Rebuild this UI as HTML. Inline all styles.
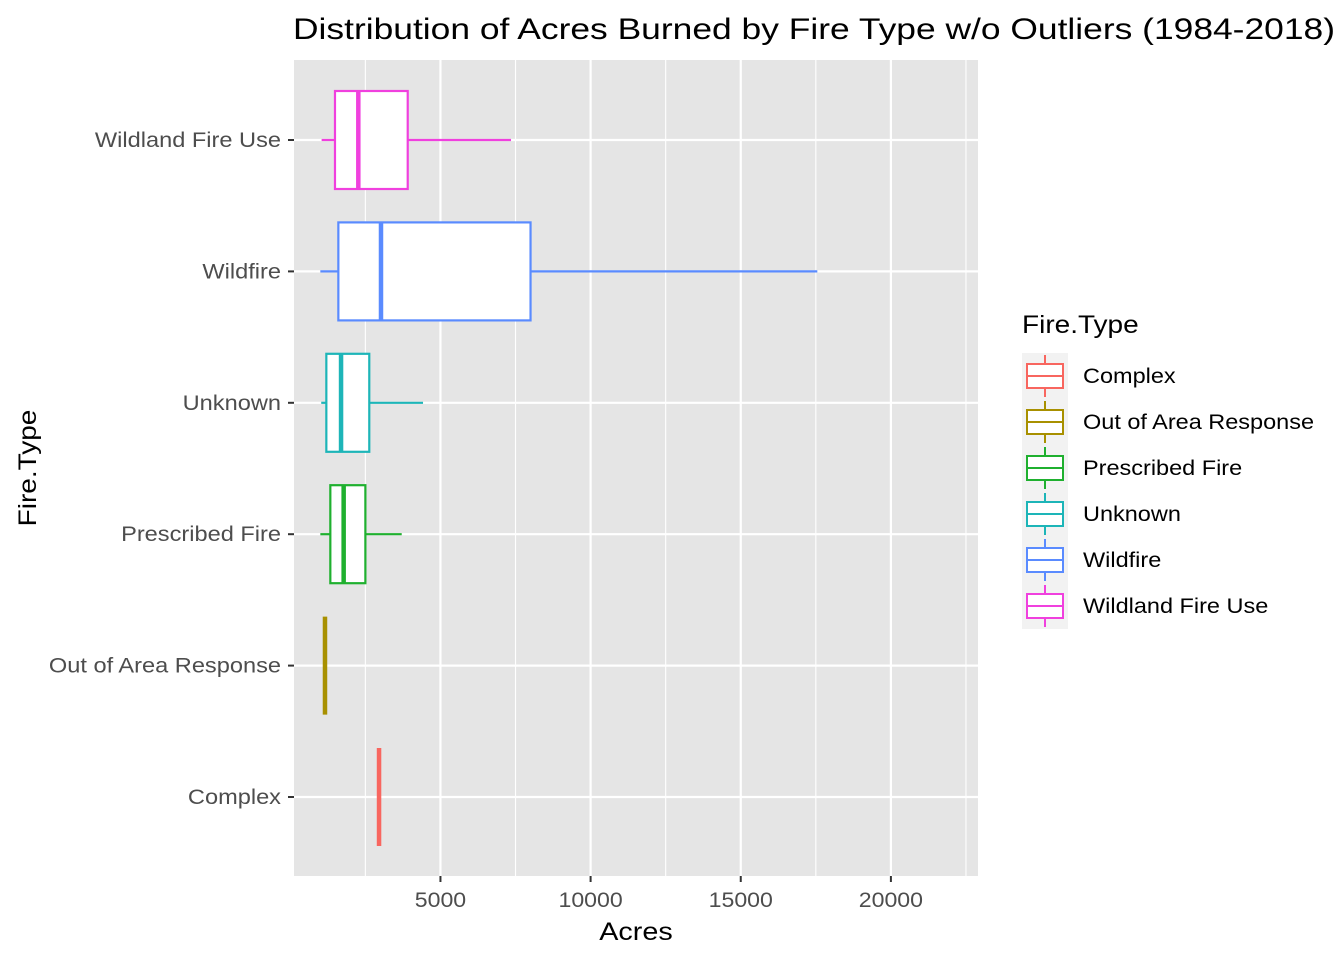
<!DOCTYPE html>
<html><head><meta charset="utf-8"><style>
body{margin:0;background:#fff;font-family:"Liberation Sans",Arial,sans-serif}
svg text{font-family:"Liberation Sans",Arial,sans-serif}
</style></head><body>
<svg id="c" width="1344" height="960" xmlns="http://www.w3.org/2000/svg"></svg>
<script>
const categories=["Complex","Out of Area Response","Prescribed Fire","Unknown","Wildfire","Wildland Fire Use"];
const colors=["#F8665F","#A89000","#1FB02F","#1DB5B8","#5A8BFF","#F040DE"];
const lowW=[2955,1155,1000,1030,1000,1043];
const q1=[2955,1155,1333,1200,1600,1488];
const med=[2955,1155,1777,1690,3020,2265];
const q3=[2955,1155,2500,2630,8000,3910];
const highW=[2955,1155,3710,4420,17550,7350];
const majorTicks=[5000,10000,15000,20000];
const minorTicks=[2500,7500,12500,17500,22500];
const L=294,R=978,T=60,B=876;
const X=v=>290.3+v*0.03003;
const Y=i=>797-i*131.4;
const s=document.getElementById('c');
const NS="http://www.w3.org/2000/svg";
function el(t,a,p){const e=document.createElementNS(NS,t);for(const k in a)e.setAttribute(k,a[k]);(p||s).appendChild(e);return e;}
function widen(t,f){const w=t.getComputedTextLength();t.setAttribute('textLength',w*f);t.setAttribute('lengthAdjust','spacingAndGlyphs');}
let e=el('rect',{x:L,y:T,width:R-L,height:B-T,fill:'#E5E5E5'});

minorTicks.forEach(v=>{let g=el('line',{x1:X(v),x2:X(v),y1:T,y2:B,stroke:'#fff','stroke-width':1.1});});
majorTicks.forEach(v=>{let g=el('line',{x1:X(v),x2:X(v),y1:T,y2:B,stroke:'#fff','stroke-width':2.2});
let t=el('line',{x1:X(v),x2:X(v),y1:B,y2:B+6,stroke:'#333','stroke-width':2});
let l=el('text',{x:X(v),y:B+31,'text-anchor':'middle','font-size':21,fill:'#4D4D4D'});l.textContent=v;widen(l,1.1);});
categories.forEach((c,i)=>{const y=Y(i);
let g=el('line',{x1:L,x2:R,y1:y,y2:y,stroke:'#fff','stroke-width':2.2});
let t=el('line',{x1:L-6,x2:L,y1:y,y2:y,stroke:'#333','stroke-width':2});
let l=el('text',{x:L-13,y:y+7,'text-anchor':'end','font-size':21,fill:'#4D4D4D'});l.textContent=c;widen(l,1.123);});
categories.forEach((c,i)=>{const y=Y(i),col=colors[i],h=49;
const grp=el('g',{});
el('line',{x1:X(lowW[i]),x2:X(q1[i]),y1:y,y2:y,stroke:col,'stroke-width':2.2},grp);
el('line',{x1:X(q3[i]),x2:X(highW[i]),y1:y,y2:y,stroke:col,'stroke-width':2.2},grp);
el('rect',{x:X(q1[i]),y:y-h,width:X(q3[i])-X(q1[i]),height:2*h,fill:'#fff',stroke:col,'stroke-width':2.2},grp);
el('line',{x1:X(med[i]),x2:X(med[i]),y1:y-h,y2:y+h,stroke:col,'stroke-width':4.5},grp);});
function txt(x,y,str,size,name,extra){let t=el('text',Object.assign({x:x,y:y,'font-size':size,fill:'#000'},extra||{}));t.textContent=str;return t;}
txt(814,39,"Distribution of Acres Burned by Fire Type w/o Outliers (1984-2018)",30,'chart-title',{'text-anchor':'middle',textLength:1042,lengthAdjust:'spacingAndGlyphs'});
widen(txt(636,940,"Acres",25,'x-axis-title',{'text-anchor':'middle'}),1.15);
widen(txt(0,0,"Fire.Type",25,'y-axis-title',{'text-anchor':'middle',transform:'translate(36,468) rotate(-90)'}),1.12);
widen(txt(1022,333,"Fire.Type",25,'legend-title'),1.12);
let lb=el('rect',{x:1022,y:353,width:46,height:276,fill:'#F2F2F2'});
categories.forEach((c,i)=>{const y=376+i*46,col=colors[i];
const g=el('g',{});
el('line',{x1:1045,x2:1045,y1:y-21,y2:y+21,stroke:col,'stroke-width':2},g);
el('rect',{x:1027,y:y-12,width:36,height:24,fill:'#fff',stroke:col,'stroke-width':2},g);
el('line',{x1:1027,x2:1063,y1:y,y2:y,stroke:col,'stroke-width':2},g);
let t=el('text',{x:1083,y:y+7,'font-size':21,fill:'#000'},g);t.textContent=c;widen(t,1.118);});
</script>
</body></html>
